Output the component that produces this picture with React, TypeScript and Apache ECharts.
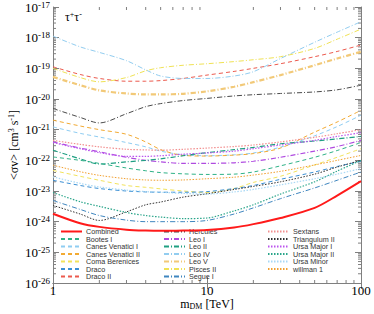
import React, { useEffect, useRef } from "react";
import * as echarts from "echarts";

// Dark-matter masses (TeV) at which the curves were read
const masses = [1, 1.5, 2, 3, 4, 5, 7, 10, 15, 20, 30, 50, 70, 100];

// log10 of <sigma v> upper limits [cm^3 s^-1]
const combined = [-23.74, -24.05, -24.17, -24.26, -24.29, -24.3, -24.29, -24.27, -24.19, -24.08, -23.88, -23.55, -23.15, -22.68];
const bootesI = [-21.89, -22.0, -22.1, -22.25, -22.34, -22.4, -22.44, -22.46, -22.45, -22.38, -22.18, -21.9, -21.68, -21.42];
const canesVenaticiI = [-20.91, -21.12, -21.24, -21.42, -21.56, -21.7, -21.82, -21.85, -21.82, -21.76, -21.57, -21.2, -20.9, -20.53];
const canesVenaticiII = [-20.69, -20.88, -21.0, -21.15, -21.4, -21.65, -21.84, -21.86, -21.83, -21.78, -21.6, -21.08, -20.75, -20.37];
const comaBerenices = [-22.33, -22.52, -22.65, -22.82, -22.88, -22.93, -23.0, -23.05, -22.92, -22.72, -22.52, -22.15, -21.9, -21.62];
const draco = [-22.65, -22.82, -22.92, -23.0, -23.03, -23.04, -23.04, -23.02, -22.92, -22.82, -22.62, -22.38, -22.2, -22.03];
const dracoII = [-18.95, -19.2, -19.33, -19.42, -19.42, -19.4, -19.33, -19.22, -19.1, -19.0, -18.85, -18.62, -18.45, -18.24];
const hercules = [-20.31, -20.6, -20.78, -20.48, -20.25, -20.15, -20.05, -19.98, -19.9, -19.86, -19.82, -19.77, -19.7, -19.55];
const leoI = [-21.4, -21.6, -21.72, -21.9, -22.0, -22.05, -22.1, -22.1, -22.08, -22.03, -21.9, -21.7, -21.55, -21.35];
const leoII = [-21.67, -21.95, -22.12, -22.05, -22.0, -21.95, -21.85, -21.75, -21.65, -21.58, -21.46, -21.37, -21.3, -21.22];
const leoIV = [-17.95, -18.3, -18.48, -18.75, -19.05, -19.25, -19.33, -19.33, -19.25, -19.11, -18.68, -18.15, -17.82, -17.48];
const leoV = [-19.28, -19.55, -19.72, -19.82, -19.85, -19.85, -19.83, -19.75, -19.6, -19.45, -19.22, -18.9, -18.68, -18.46];
const piscesII = [-19.0, -19.3, -19.44, -19.3, -19.08, -18.98, -18.9, -18.85, -18.78, -18.72, -18.62, -18.35, -18.05, -17.72];
const segueI = [-23.31, -23.6, -23.8, -23.95, -24.0, -24.0, -24.0, -23.96, -23.75, -23.55, -23.25, -22.9, -22.65, -22.38];
const sextans = [-21.35, -21.48, -21.56, -21.64, -21.66, -21.67, -21.64, -21.6, -21.55, -21.5, -21.4, -21.25, -21.13, -21.0];
const triangulumII = [-23.47, -23.75, -23.96, -23.68, -23.45, -23.36, -23.2, -23.09, -22.95, -22.85, -22.7, -22.45, -22.22, -22.0];
const ursaMajorI = [-21.42, -21.62, -21.75, -21.87, -21.87, -21.85, -21.8, -21.76, -21.7, -21.62, -21.5, -21.35, -21.22, -21.1];
const ursaMajorII = [-23.05, -23.35, -23.5, -23.7, -23.8, -23.85, -23.9, -23.88, -23.65, -23.45, -23.1, -22.7, -22.35, -22.0];
const ursaMinor = [-22.54, -22.75, -22.87, -22.97, -23.02, -23.04, -23.08, -23.1, -23.03, -22.95, -22.8, -22.6, -22.45, -22.27];
const willman1 = [-22.16, -22.37, -22.49, -22.6, -22.64, -22.65, -22.64, -22.6, -22.55, -22.48, -22.36, -22.15, -22.0, -21.84];

// Axis ticks
const xMin = 1;
const xMax = 100;
const yMin = 1e-26;
const yMax = 1e-17;
const xMinorTicks = [2, 3, 4, 5, 6, 7, 8, 9, 20, 30, 40, 50, 60, 70, 80, 90];
const yLabelExponents = [-26, -25, -24, -23, -22, -21, -20, -19, -18, -17];
const yDecades = [-26, -25, -24, -23, -22, -21, -20, -19, -18];
const yMinorMultipliers = [2, 3, 4, 5, 6, 7, 8, 9];

const DASH = [4, 3];
const DASHDOT = [5, 2, 1, 2];
const DOT = [1.5, 1.5];

type Def = { name: string; vals: number[]; color: string; width: number; dash: any };
const defs: Def[] = [
  { name: "Combined", vals: combined, color: "#ff1a1a", width: 2, dash: "solid" },
  { name: "Bootes I", vals: bootesI, color: "#2fb287", width: 1, dash: DASH },
  { name: "Canes Venatici I", vals: canesVenaticiI, color: "#8fcdf2", width: 1, dash: DASH },
  { name: "Canes Venatici II", vals: canesVenaticiII, color: "#f2aa33", width: 1, dash: DASH },
  { name: "Coma Berenices", vals: comaBerenices, color: "#f2e35c", width: 1, dash: DASH },
  { name: "Draco", vals: draco, color: "#3a8fd4", width: 1, dash: DASH },
  { name: "Draco II", vals: dracoII, color: "#ec5a4e", width: 1, dash: DASH },
  { name: "Hercules", vals: hercules, color: "#4a4a4a", width: 1, dash: DASHDOT },
  { name: "Leo I", vals: leoI, color: "#b04be0", width: 1.2, dash: DASHDOT },
  { name: "Leo II", vals: leoII, color: "#1f9f82", width: 1.2, dash: DASHDOT },
  { name: "Leo IV", vals: leoIV, color: "#92cdf0", width: 1, dash: DASHDOT },
  { name: "Leo V", vals: leoV, color: "#f2c978", width: 2.2, dash: DASHDOT },
  { name: "Pisces II", vals: piscesII, color: "#f0e255", width: 1, dash: DASHDOT },
  { name: "Segue I", vals: segueI, color: "#3f86bf", width: 1, dash: DASHDOT },
  { name: "Sextans", vals: sextans, color: "#f29090", width: 1.2, dash: DOT },
  { name: "Triangulum II", vals: triangulumII, color: "#333333", width: 1, dash: DOT },
  { name: "Ursa Major I", vals: ursaMajorI, color: "#bb55ee", width: 1.2, dash: DOT },
  { name: "Ursa Major II", vals: ursaMajorII, color: "#2aa58a", width: 1.2, dash: DOT },
  { name: "Ursa Minor", vals: ursaMinor, color: "#a8d8f5", width: 1.2, dash: DOT },
  { name: "willman 1", vals: willman1, color: "#f2a030", width: 1, dash: DOT },
];

const FRAME = "#7f7f7f";
const SERIF = "'Liberation Serif', 'DejaVu Serif', serif";
const SANS = "'Liberation Sans', Arial, sans-serif";

export default function App() {
  const ref = useRef<HTMLDivElement>(null);
  useEffect(() => {
    if (!ref.current) return;
    const chart = echarts.init(ref.current, undefined, { renderer: "svg" });

    const lineSeries = defs.map((d) => ({
      name: d.name,
      type: "line",
      xAxisIndex: 0,
      yAxisIndex: 0,
      data: masses.map((m, i) => [m, Math.pow(10, d.vals[i])]),
      symbol: "none",
      showSymbol: false,
      smooth: 0.3,
      clip: true,
      z: d.name === "Combined" ? 5 : 3,
      lineStyle: { color: d.color, width: d.width, type: d.dash },
      itemStyle: { color: d.color },
    }));

    const xMinorSeries = {
      type: "custom",
      xAxisIndex: 0,
      yAxisIndex: 0,
      silent: true,
      clip: false,
      data: xMinorTicks.map((v) => [v, yMin]),
      encode: { x: 0, y: 1 },
      renderItem: (_p: any, api: any) => {
        const v = api.value(0);
        const b = api.coord([v, yMin]);
        const t = api.coord([v, yMax]);
        const st = { stroke: FRAME, lineWidth: 1 };
        return {
          type: "group",
          children: [
            { type: "line", shape: { x1: b[0], y1: b[1], x2: b[0], y2: b[1] - 3 }, style: st },
            { type: "line", shape: { x1: t[0], y1: t[1], x2: t[0], y2: t[1] + 3 }, style: st },
          ],
        };
      },
    };

    const yMinorVals: number[][] = [];
    yDecades.forEach((d) => yMinorMultipliers.forEach((k) => yMinorVals.push([xMin, k * Math.pow(10, d)])));
    const yMinorSeries = {
      type: "custom",
      xAxisIndex: 0,
      yAxisIndex: 0,
      silent: true,
      clip: false,
      data: yMinorVals,
      encode: { x: 0, y: 1 },
      renderItem: (_p: any, api: any) => {
        const v = api.value(1);
        const l = api.coord([xMin, v]);
        const r = api.coord([xMax, v]);
        const st = { stroke: FRAME, lineWidth: 1 };
        return {
          type: "group",
          children: [
            { type: "line", shape: { x1: l[0], y1: l[1], x2: l[0] + 3, y2: l[1] }, style: st },
            { type: "line", shape: { x1: r[0], y1: r[1], x2: r[0] - 3, y2: r[1] }, style: st },
          ],
        };
      },
    };

    // y tick labels (10^n) placed through the y scale
    const yLabelSeries = {
      type: "custom",
      xAxisIndex: 0,
      yAxisIndex: 0,
      silent: true,
      clip: false,
      z: 10,
      data: yLabelExponents.map((e) => [xMin, Math.pow(10, e), e]),
      encode: { x: 0, y: 1 },
      renderItem: (_p: any, api: any) => {
        const v = api.value(1);
        const e = api.value(2);
        const p = api.coord([xMin, v]);
        return {
          type: "text",
          x: p[0] - 3,
          y: p[1],
          style: {
            text: `{b|10}{s|${e}}`,
            align: "right",
            verticalAlign: "middle",
            rich: {
              b: { fontSize: 13, fontFamily: SERIF, fill: "#000", lineHeight: 14 },
              s: { fontSize: 9, fontFamily: SERIF, fill: "#000", verticalAlign: "top", lineHeight: 9 },
            },
          },
        };
      },
    };

    const names = defs.map((d) => d.name);
    const legendBase = {
      orient: "vertical",
      top: 228,
      padding: 0,
      itemWidth: 21,
      itemHeight: 6,
      itemGap: 0.5,
      selectedMode: false,
      itemStyle: { opacity: 0, borderWidth: 0 },
      textStyle: { fontSize: 7.2, fontFamily: SANS, color: "#333", lineHeight: 6, padding: [0, 0, 0, -1] },
    };

    const axisCommon = {
      axisLine: { show: true, lineStyle: { color: FRAME, width: 1 } },
      splitLine: { show: false },
    };

    chart.setOption({
      animation: false,
      backgroundColor: "#ffffff",
      grid: { left: 53, right: 13, top: 7, bottom: 31, containLabel: false, outerBoundsMode: "none" },
      legend: [
        { ...legendBase, left: 60, data: names.slice(0, 7) },
        { ...legendBase, left: 163, data: names.slice(7, 14) },
        { ...legendBase, left: 267, data: names.slice(14, 20) },
      ],
      xAxis: [
        {
          type: "log",
          min: xMin,
          max: xMax,
          position: "bottom",
          ...axisCommon,
          axisTick: { show: true, inside: true, length: 6, lineStyle: { color: FRAME } },
          axisLabel: {
            fontSize: 13,
            fontFamily: SERIF,
            color: "#000",
            margin: 2,
            lineHeight: 11,
            showMinLabel: true,
            showMaxLabel: true,
          },
          name: "m{sub|DM} [TeV]",
          nameLocation: "middle",
          nameGap: 15,
          nameMoveOverlap: false,
          nameTextStyle: {
            fontSize: 12,
            fontFamily: SERIF,
            color: "#000",
            rich: {
              sub: { fontSize: 8, fontFamily: SERIF, color: "#000", verticalAlign: "bottom", lineHeight: 8 },
            },
            lineHeight: 12,
          },
        },
        {
          type: "log",
          min: xMin,
          max: xMax,
          position: "top",
          ...axisCommon,
          axisTick: { show: true, inside: true, length: 6, lineStyle: { color: FRAME } },
          axisLabel: { show: false },
        },
      ],
      yAxis: [
        {
          type: "log",
          min: yMin,
          max: yMax,
          position: "left",
          ...axisCommon,
          axisTick: { show: true, inside: true, length: 6, lineStyle: { color: FRAME } },
          axisLabel: { show: false },
          name: "<σv> [cm{sup|3} s{sup|-1}]",
          nameLocation: "middle",
          nameGap: 32,
          nameRotate: 90,
          nameMoveOverlap: false,
          nameTextStyle: {
            fontSize: 12,
            fontFamily: SERIF,
            color: "#000",
            lineHeight: 14,
            rich: {
              sup: { fontSize: 8, fontFamily: SERIF, color: "#000", verticalAlign: "top", lineHeight: 8 },
            },
          },
        },
        {
          type: "log",
          min: yMin,
          max: yMax,
          position: "right",
          ...axisCommon,
          axisTick: { show: true, inside: true, length: 6, lineStyle: { color: FRAME } },
          axisLabel: { show: false },
        },
      ],
      graphic: [
        {
          type: "text",
          left: 65,
          top: 10,
          style: {
            text: "{a|τ}{s|+}{a|τ}{s|-}",
            rich: {
              a: { fontSize: 12, fontFamily: SERIF, fill: "#000", lineHeight: 13 },
              s: { fontSize: 8, fontFamily: SERIF, fill: "#000", verticalAlign: "top", lineHeight: 8 },
            },
          },
        },
      ],
      series: [...lineSeries, xMinorSeries, yMinorSeries, yLabelSeries],
    } as any);

    return () => chart.dispose();
  }, []);

  return <div ref={ref} style={{ width: 374, height: 314, position: "absolute", left: 0, top: 0 }} />;
}
